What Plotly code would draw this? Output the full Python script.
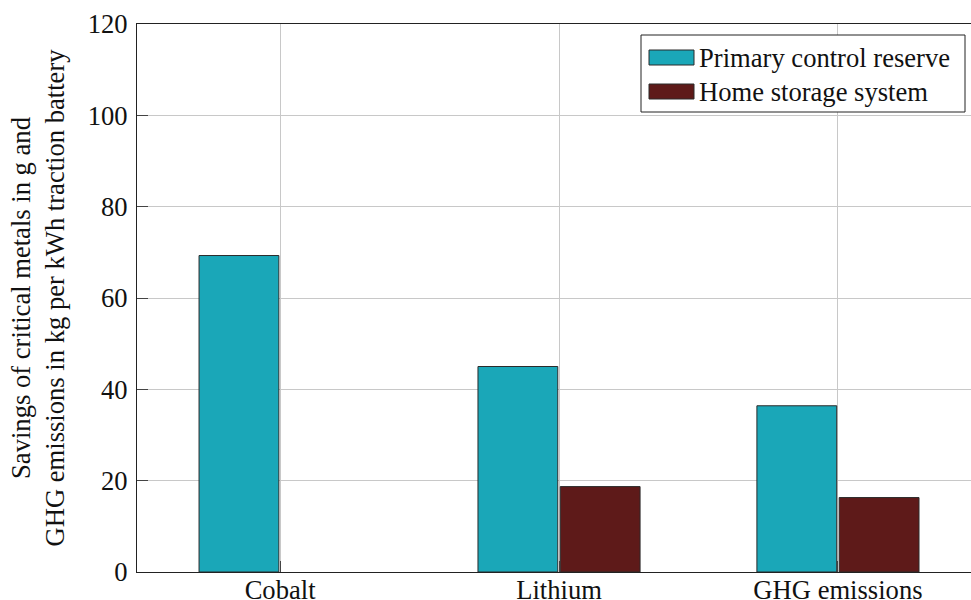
import plotly.graph_objects as go

categories = ["Cobalt", "Lithium", "GHG emissions"]
series_names = ["Primary control reserve", "Home storage system"]
primary_reserve = [69.3, 45.0, 36.4]
home_storage = [None, 18.7, 16.3]  # no home-storage value for cobalt
y_ticks = [0, 20, 40, 60, 80, 100, 120]

FONT = "Liberation Serif, Times New Roman, serif"
FS = 26.6
TEXT = "#111111"
EDGE = "#2b2b2b"
colors = ["#1aa7b8", "#5e1a19"]

fig = go.Figure()
for name, vals, col in zip(series_names, [primary_reserve, home_storage], colors):
    fig.add_trace(go.Bar(
        x=categories, y=vals, name=name, showlegend=False,
        marker=dict(color=col, line=dict(color=EDGE, width=1)),
    ))

axis_common = dict(
    showline=True, linecolor="#222222", linewidth=1.3, mirror=True,
    showgrid=True, gridcolor="#c8c8c8", gridwidth=1,
    ticks="inside", ticklen=11, tickcolor="#444444", tickwidth=1,
    tickfont=dict(family=FONT, size=FS, color=TEXT),
    zeroline=False, automargin=False,
)

W, H = 971, 600
ML, MR, MT, MB = 137, 0, 24, 28
PW, PH = W - ML - MR, H - MT - MB

fig.update_layout(
    width=W, height=H,
    margin=dict(l=ML, r=MR, t=MT, b=MB),
    paper_bgcolor="white", plot_bgcolor="white",
    barmode="group", bargap=0.41, bargroupgap=0.03,
    font=dict(family=FONT, size=FS, color=TEXT),
    xaxis=dict(range=[-0.513, 2.477], ticklabelstandoff=-6, **axis_common),
    yaxis=dict(range=[0, 120], tickvals=y_ticks, ticklabelstandoff=3, **axis_common),
    showlegend=False,
)

# Framed legend in the upper-right corner, built from shapes and text
def px_x(p):
    return (p - ML) / PW

def px_y(p):
    return 1 - (p - MT) / PH

fig.add_shape(type="rect", xref="paper", yref="paper",
              x0=px_x(641), x1=px_x(965), y0=px_y(112), y1=px_y(35),
              line=dict(color="#222222", width=1), fillcolor="white", layer="above")
for i, (name, col) in enumerate(zip(series_names, colors)):
    top = 50 + i * 34
    fig.add_shape(type="rect", xref="paper", yref="paper",
                  x0=px_x(649), x1=px_x(694), y0=px_y(top + 15), y1=px_y(top),
                  line=dict(color=EDGE, width=1), fillcolor=col, layer="above")
    fig.add_annotation(text=name, xref="paper", yref="paper",
                       x=px_x(697), y=px_y(top + 7.5), xanchor="left", yanchor="middle",
                       showarrow=False, font=dict(family=FONT, size=FS, color=TEXT))

fig.add_annotation(
    text="Savings of critical metals in g and<br>GHG emissions in kg per kWh traction battery",
    xref="paper", yref="paper", x=0, y=0.5,
    xanchor="center", yanchor="middle", xshift=-99.5,
    textangle=-90, showarrow=False,
    font=dict(family=FONT, size=FS, color=TEXT),
)

fig.write_html("out.html")
